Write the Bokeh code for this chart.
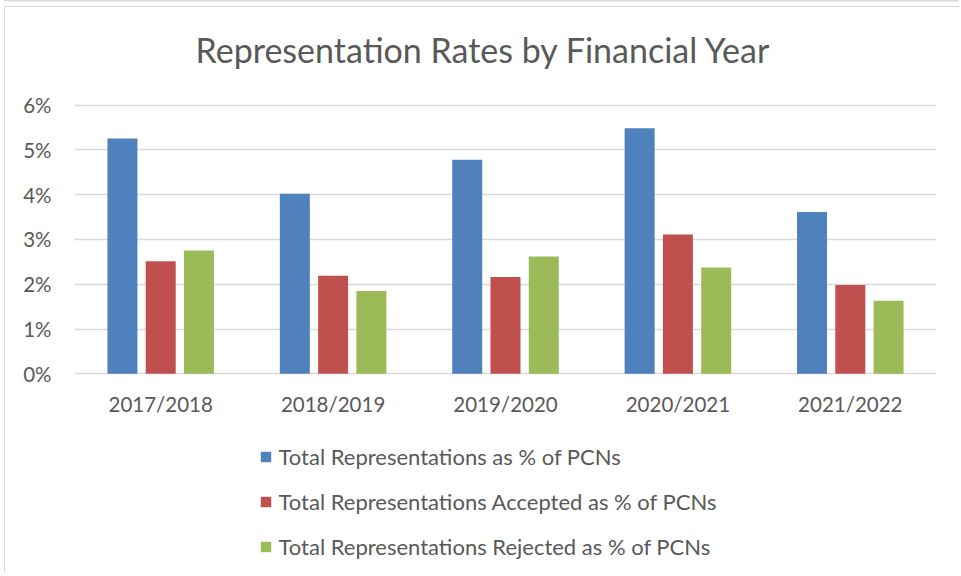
from bokeh.plotting import figure
from bokeh.models import ColumnDataSource, FactorRange, Range1d, FixedTicker, PrintfTickFormatter, Legend, LegendItem
from bokeh.core.properties import value
from bokeh.transform import dodge
from bokeh.embed import file_html
from bokeh.resources import INLINE

years = ["2017/2018", "2018/2019", "2019/2020", "2020/2021", "2021/2022"]
total = [5.25, 4.02, 4.78, 5.48, 3.61]
accepted = [2.51, 2.19, 2.16, 3.11, 1.98]
rejected = [2.75, 1.85, 2.62, 2.37, 1.63]
series_names = [
    "Total Representations as % of PCNs",
    "Total Representations Accepted as % of PCNs",
    "Total Representations Rejected as % of PCNs",
]
colors = ["#4F81BD", "#C0504D", "#9BBB59"]
y_ticks = [0, 1, 2, 3, 4, 5, 6]
title_text = "Representation Rates by Financial Year"

FONT = "Lato"
TXT = "#595959"

W, H = 955, 567
TOP, LEFT, RIGHT = 97.5, 69, 931   # canvas pixels of the 6% line, left and right plot edges
TITLE_Y = 41.5                      # canvas pixels of the title's middle
PX_PER_UNIT = 44.8
y_start = 6 - (H - TOP) / PX_PER_UNIT
y_end = 6 + TOP / PX_PER_UNIT

source = ColumnDataSource(dict(year=years, total=total, accepted=accepted, rejected=rejected))

p = figure(width=W, height=H, x_range=FactorRange(*years), y_range=Range1d(y_start, y_end),
           output_backend="svg", toolbar_location=None,
           min_border_left=LEFT, min_border_right=W - RIGHT, min_border_top=0, min_border_bottom=0)
p.styles = {
    "margin-left": "3.5px",
    "margin-top": "6px",
    "border-left": "1.5px solid #d9d9d9",
    "border-top": "1.5px solid #d9d9d9",
    "box-shadow": "0 -4.5px 0 0 #ffffff, 0 -6px 0 0 #dcdcdc",
}
p.outline_line_color = None
p.x_range.range_padding = 0

renderers = []
for col, off, c in zip(["total", "accepted", "rejected"], [-0.222, 0.0, 0.222], colors):
    r = p.vbar(x=dodge("year", off, range=p.x_range), top=col, width=0.174, source=source,
               fill_color=c, line_color=None)
    renderers.append(r)

# category labels below the baseline
p.text(x=years, y=[-30 / PX_PER_UNIT] * len(years), text=years,
       text_align="center", text_baseline="middle", text_font=value(FONT),
       text_font_size="20.5px", text_color=TXT)

# chart title
p.text(x=[years[2]], y=[6 + (TOP - TITLE_Y) / PX_PER_UNIT], text=[title_text], x_offset=-22,
       text_align="center", text_baseline="middle", text_font=value(FONT),
       text_font_size="34px", text_color=TXT)

p.xaxis.visible = False
p.xgrid.grid_line_color = None
p.ygrid.grid_line_color = "#d9d9d9"
p.ygrid.grid_line_width = 1.5
p.yaxis.ticker = FixedTicker(ticks=y_ticks)
p.yaxis.formatter = PrintfTickFormatter(format="%d%%")
ax = p.yaxis[0]
ax.axis_line_color = None
ax.major_tick_line_color = None
ax.minor_tick_line_color = None
ax.major_label_text_font = FONT
ax.major_label_text_font_size = "20.5px"
ax.major_label_text_color = TXT
ax.major_label_standoff = 17

legend = Legend(items=[LegendItem(label=n, renderers=[r]) for n, r in zip(series_names, renderers)],
                location=(185, 14), orientation="vertical",
                glyph_width=13, glyph_height=13, label_height=20, spacing=18,
                label_standoff=7, padding=0, margin=0,
                border_line_color=None, background_fill_alpha=0,
                label_text_font=FONT, label_text_font_size="22px", label_text_color=TXT)
p.add_layout(legend, "center")

open("out.html", "w").write(file_html(p, INLINE))
